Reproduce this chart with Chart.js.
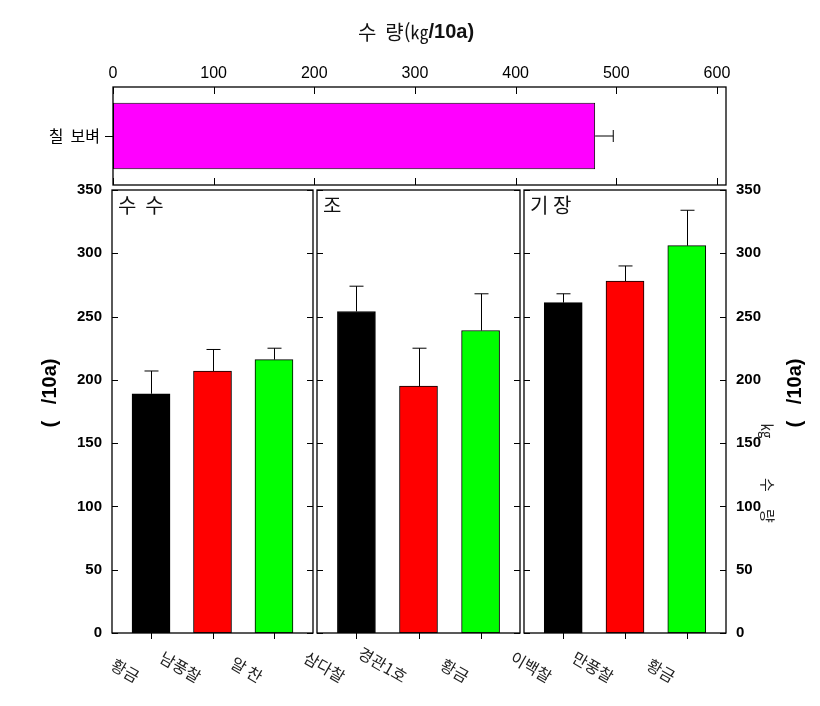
<!DOCTYPE html>
<html lang="ko">
<head>
<meta charset="UTF-8">
<title>수 량(㎏/10a)</title>
<script src="https://cdn.jsdelivr.net/npm/chart.js"></script>
<style>
  body { margin: 0; background: #fff; }
  .wrap { position: relative; width: 820px; height: 706px; }
  .wrap canvas { position: absolute; left: 0; top: 0; }
</style>
</head>
<body>
<div class="wrap">
  <canvas id="chartTop" width="820" height="706"></canvas>
  <canvas id="chartSusu" width="820" height="706"></canvas>
  <canvas id="chartJo" width="820" height="706"></canvas>
  <canvas id="chartGijang" width="820" height="706"></canvas>
</div>

<script>
  // 데이터
  const riceNames = ['칠  보벼'];
  const riceValues = [479];
  const riceErrors = [18];
  const riceTicks = [0, 100, 200, 300, 400, 500, 600];

  const panelTitles = ['수  수', '조', '기 장'];

  const susuNames = ['황금', '남풍찰', '알 찬'];
  const susuValues = [189, 207, 216];
  const susuErrors = [18, 17, 9];

  const joNames = ['삼다찰', '경관1호', '황금'];
  const joValues = [254, 195, 239];
  const joErrors = [20, 30, 29];

  const gijangNames = ['이백찰', '만풍찰', '황금'];
  const gijangValues = [261, 278, 306];
  const gijangErrors = [7, 12, 28];

  const barColors = ['#000000', '#ff0000', '#00ff00'];

  const FONT = "'Liberation Sans', 'Noto Sans CJK KR', sans-serif";
  const KFONT = "'Noto Sans CJK KR', 'Liberation Sans', sans-serif";

  Chart.defaults.font.family = FONT;
  Chart.defaults.color = '#000';

  // 위쪽 가로 막대: 오차막대, 안쪽 눈금, 테두리, 제목
  const topDeco = {
    id: 'topDeco',
    afterDatasetsDraw(chart) {
      const { ctx, chartArea: a, scales: { x } } = chart;
      const meta = chart.getDatasetMeta(0);
      ctx.save();
      ctx.strokeStyle = '#000';
      ctx.lineWidth = 1;
      meta.data.forEach((bar, i) => {
        const end = x.getPixelForValue(riceValues[i] + riceErrors[i]);
        ctx.beginPath();
        ctx.moveTo(bar.x, bar.y);
        ctx.lineTo(end, bar.y);
        ctx.moveTo(end, bar.y - 6);
        ctx.lineTo(end, bar.y + 6);
        ctx.stroke();
      });
      x.ticks.forEach(t => {
        const px = Math.round(x.getPixelForValue(t.value)) + 0.5;
        ctx.beginPath();
        ctx.moveTo(px, a.top);
        ctx.lineTo(px, a.top + 7);
        ctx.moveTo(px, a.bottom);
        ctx.lineTo(px, a.bottom - 7);
        ctx.stroke();
      });
      ctx.lineWidth = 1.3;
      ctx.strokeRect(a.left, a.top, a.right - a.left, a.bottom - a.top);

      // 제목 수 량(㎏/10a)
      const parts = [
        { text: '수  량(', font: '20px ' + KFONT },
        { text: '㎏', font: '18px ' + KFONT },
        { text: '/10a)', font: 'bold 20px ' + FONT }
      ];
      let total = 0;
      parts.forEach(p => { ctx.font = p.font; p.w = ctx.measureText(p.text).width; total += p.w; });
      let px = 416 - total / 2;
      ctx.fillStyle = '#111';
      ctx.textBaseline = 'middle';
      ctx.textAlign = 'left';
      parts.forEach(p => { ctx.font = p.font; ctx.fillText(p.text, px, 32); px += p.w; });
      ctx.restore();
    }
  };

  new Chart(document.getElementById('chartTop'), {
    type: 'bar',
    data: {
      labels: riceNames,
      datasets: [{
        data: riceValues,
        backgroundColor: '#ff00ff',
        borderColor: '#000',
        borderWidth: 1,
        borderSkipped: false,
        barPercentage: 0.68,
        categoryPercentage: 1
      }]
    },
    options: {
      indexAxis: 'y',
      responsive: false,
      animation: false,
      layout: { padding: { left: 23, top: 63, right: 94, bottom: 521 } },
      plugins: { legend: { display: false }, tooltip: { enabled: false } },
      scales: {
        x: {
          position: 'top', min: 0, max: 609,
          afterBuildTicks: s => { s.ticks = riceTicks.map(v => ({ value: v })); },
          ticks: { padding: 4, font: { size: 16 } },
          grid: { display: false, drawTicks: false },
          border: { display: false },
          afterFit: s => { s.height = 24; }
        },
        y: {
          ticks: { padding: 5, font: { size: 16, family: KFONT } },
          grid: { drawOnChartArea: false, drawTicks: true, tickLength: 8, offset: false, color: '#000', lineWidth: 1 },
          border: { display: false },
          afterFit: s => { s.width = 90; }
        }
      }
    },
    plugins: [topDeco]
  });

  // 아래 패널: 오차막대, 눈금, 테두리, 패널 이름, 품종 이름
  const panelDeco = {
    id: 'panelDeco',
    afterDatasetsDraw(chart, args, opts) {
      const { ctx, chartArea: a, scales: { y } } = chart;
      const meta = chart.getDatasetMeta(0);
      const data = chart.data.datasets[0].data;
      ctx.save();
      ctx.strokeStyle = '#000';
      ctx.lineWidth = 1;
      meta.data.forEach((bar, i) => {
        const top = y.getPixelForValue(data[i].y + opts.errors[i]);
        const bx = Math.round(bar.x) + 0.5;
        ctx.beginPath();
        ctx.moveTo(bx, bar.y);
        ctx.lineTo(bx, top);
        ctx.moveTo(bx - 7, top);
        ctx.lineTo(bx + 7, top);
        ctx.moveTo(bx, a.bottom);
        ctx.lineTo(bx, a.bottom + 6);
        ctx.stroke();
      });
      y.ticks.forEach(t => {
        const py = Math.round(y.getPixelForValue(t.value)) + 0.5;
        ctx.beginPath();
        ctx.moveTo(a.left, py);
        ctx.lineTo(a.left + 6, py);
        ctx.moveTo(a.right, py);
        ctx.lineTo(a.right - 6, py);
        ctx.stroke();
      });
      ctx.lineWidth = 1.3;
      ctx.strokeRect(a.left, a.top, a.right - a.left, a.bottom - a.top);

      ctx.fillStyle = '#111';
      ctx.font = '20px ' + KFONT;
      ctx.textAlign = 'left';
      ctx.textBaseline = 'top';
      ctx.fillText(opts.title, a.left + 6, a.top + 5);

      ctx.fillStyle = '#222';
      ctx.font = '16px ' + KFONT;
      ctx.textAlign = 'right';
      ctx.textBaseline = 'middle';
      meta.data.forEach((bar, i) => {
        ctx.save();
        ctx.translate(bar.x - 13, a.bottom + 45);
        ctx.rotate(Math.PI / 6);
        ctx.fillText(opts.names[i], 0, 0);
        ctx.restore();
      });
      ctx.restore();
    }
  };

  // 세로축 제목 (왼쪽/오른쪽)
  const sideText = {
    id: 'sideText',
    afterDraw(chart, args, opts) {
      const { ctx } = chart;
      ctx.save();
      ctx.fillStyle = '#000';
      ctx.textAlign = 'center';
      ctx.textBaseline = 'middle';
      ctx.font = 'bold 20px ' + FONT;
      ctx.translate(opts.x, 393);
      ctx.rotate(-Math.PI / 2);
      ctx.fillText('(   /10a)', 0, 0);
      ctx.restore();
      if (opts.extra) {
        ctx.save();
        ctx.fillStyle = '#222';
        ctx.font = '15px ' + KFONT;
        ctx.textAlign = 'center';
        ctx.textBaseline = 'middle';
        [['㎏', 431], ['수', 485], ['량', 516]].forEach(([t, py]) => {
          ctx.save();
          ctx.translate(768, py);
          ctx.rotate(Math.PI / 2);
          ctx.fillText(t, 0, 0);
          ctx.restore();
        });
        ctx.restore();
      }
    }
  };

  function makePanel(id, title, names, values, errors, pad, yPos, yWidth, showLabels, side) {
    return new Chart(document.getElementById(id), {
      type: 'bar',
      data: {
        datasets: [{
          data: values.map((v, i) => ({ x: i + 1, y: v })),
          backgroundColor: barColors,
          borderColor: '#000',
          borderWidth: 1,
          borderSkipped: false,
          barThickness: 38
        }]
      },
      options: {
        responsive: false,
        animation: false,
        layout: { padding: pad },
        plugins: {
          legend: { display: false },
          tooltip: { enabled: false },
          panelDeco: { title: title, names: names, errors: errors },
          sideText: side
        },
        scales: {
          x: { type: 'linear', min: 0.365, max: 3.635, offset: false, grid: { offset: false }, display: false },
          y: {
            position: yPos, min: 0, max: 350,
            ticks: { stepSize: 50, display: showLabels, padding: 10, font: { size: 15, weight: 'bold' } },
            grid: { display: false, drawTicks: false },
            border: { display: false },
            afterFit: s => { s.width = yWidth; }
          }
        }
      },
      plugins: side ? [panelDeco, sideText] : [panelDeco]
    });
  }

  makePanel('chartSusu', panelTitles[0], susuNames, susuValues, susuErrors,
    { left: 72, right: 507, top: 190, bottom: 73 }, 'left', 40, true, { x: 50, extra: false });
  makePanel('chartJo', panelTitles[1], joNames, joValues, joErrors,
    { left: 317, right: 300, top: 190, bottom: 73 }, 'left', 0, false, null);
  makePanel('chartGijang', panelTitles[2], gijangNames, gijangValues, gijangErrors,
    { left: 524, right: 54, top: 190, bottom: 73 }, 'right', 40, true, { x: 795, extra: true });
</script>
</body>
</html>
